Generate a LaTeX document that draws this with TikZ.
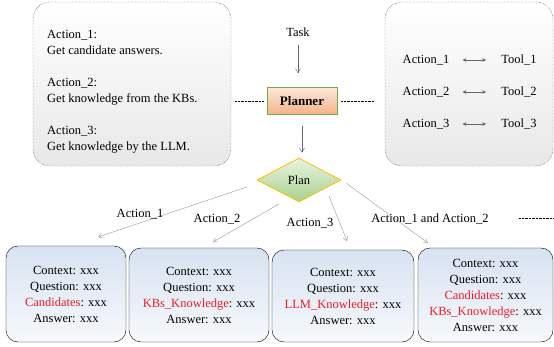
\documentclass[tikz,border=0pt]{standalone}
\usepackage{fontspec}
\setmainfont{Liberation Serif}
\usetikzlibrary{shapes.geometric,arrows.meta}
\definecolor{redtxt}{RGB}{237,28,36}
\tikzset{
  txt/.style={font=\fontsize{12.5}{16}\selectfont, inner sep=0pt},
  bigbox/.style={draw=black!85, densely dotted, rounded corners=17pt, top color=white, bottom color=black!9},
  ctxbox/.style={draw=black, rounded corners=12pt, top color={rgb,255:red,216;green,226;blue,241}, bottom color={rgb,255:red,246;green,249;blue,253}, align=center, font=\fontsize{12.5}{16}\selectfont, inner sep=0pt},
  planbox/.style={draw={rgb,255:red,112;green,173;blue,71}, thick, top color={rgb,255:red,252;green,232;blue,218}, bottom color={rgb,255:red,243;green,178;blue,135}, minimum width=70pt, minimum height=27pt, font=\fontsize{13}{16}\selectfont\bfseries},
  plandia/.style={diamond, draw={rgb,255:red,255;green,192;blue,0}, thick, top color={rgb,255:red,232;green,243;blue,224}, bottom color={rgb,255:red,168;green,208;blue,140}, minimum width=84pt, minimum height=44pt, aspect=1.9, inner sep=0pt, font=\fontsize{12.5}{16}\selectfont},
  darr/.style={draw=black!60, -{Straight Barb[length=4pt,width=5pt]}},
  garr/.style={draw=black!40, -{Straight Barb[length=4pt,width=5pt]}},
  dbl/.style={draw=black!60, {Stealth[length=4pt,width=3.5pt]}-{Stealth[length=4pt,width=3.5pt]}},
  dotline/.style={draw=black, densely dotted}
}
\begin{document}
\begin{tikzpicture}[x=1pt,y=-1pt]
\useasboundingbox (0,0) rectangle (554,347);
% top boxes
\draw[bigbox] (33,2) rectangle (231,166);
\draw[bigbox] (385,2) rectangle (553,166);
\node[txt, anchor=west, align=left] (acts) at (47,92) {Action\_1:\\Get candidate answers.\\[16pt]Action\_2:\\Get knowledge from the KBs.\\[16pt]Action\_3:\\Get knowledge by the LLM.};
% right rows
\node[txt] (a1) at (426,60) {Action\_1};
\node[txt] (t1) at (519,60) {Tool\_1};
\node[txt] (a2) at (426,92) {Action\_2};
\node[txt] (t2) at (519,92) {Tool\_2};
\node[txt] (a3) at (426,124) {Action\_3};
\node[txt] (t3) at (519,124) {Tool\_3};
\foreach \i in {1,2,3}{\draw[dbl, shorten <=13pt, shorten >=15pt] (a\i.east) -- (t\i.west);}
% task and planner
\node[txt] (task) at (298,32) {Task};
\node[planbox] (planner) at (302,101) {Planner};
\draw[darr, shorten <=8pt, shorten >=14pt] (task.south) -- (task.south |- planner.north);
\coordinate (dl1) at (235,101); \coordinate (dl2) at (264,101);
\coordinate (dr1) at (341,101); \coordinate (dr2) at (374,101);
\draw[dotline] (dl1) -- (dl2);
\draw[dotline] (dr1) -- (dr2);
\node[plandia] (plan) at (299,180) {Plan};
\draw[darr, shorten <=11pt, shorten >=5pt] (planner.south) -- (planner.south |- plan.north);
% bottom boxes
\node[ctxbox, minimum width=120pt, minimum height=96pt] (b1) at (66,294) {Context: xxx\\Question: xxx\\\textcolor{redtxt}{Candidates}: xxx\\Answer: xxx};
\node[ctxbox, minimum width=140pt, minimum height=94pt] (b2) at (199,295) {Context: xxx\\Question: xxx\\\textcolor{redtxt}{KBs\_Knowledge}: xxx\\Answer: xxx};
\node[ctxbox, minimum width=142pt, minimum height=92pt] (b3) at (343,296) {Context: xxx\\Question: xxx\\\textcolor{redtxt}{LLM\_Knowledge}: xxx\\Answer: xxx};
\node[ctxbox, minimum width=135pt, minimum height=94pt] (b4) at (485.5,295) {Context: xxx\\Question: xxx\\\textcolor{redtxt}{Candidates}: xxx\\\textcolor{redtxt}{KBs\_Knowledge}: xxx\\Answer: xxx};
% plan arrows
\coordinate (s1) at (247,187); \coordinate (e1) at (98,237);
\coordinate (s2) at (279,204); \coordinate (e2) at (213,242);
\coordinate (s3) at (329,196); \coordinate (e3) at (347,241);
\coordinate (s4) at (346,183); \coordinate (e4) at (428,243);
\draw[garr] (s1) -- (e1);
\draw[garr] (s2) -- (e2);
\draw[garr] (s3) -- (e3);
\draw[garr] (s4) -- (e4);
\node[txt] (l1) at (140,214) {Action\_1};
\node[txt] (l2) at (217,219) {Action\_2};
\node[txt] (l3) at (310,223) {Action\_3};
\node[txt] (l4) at (430,219) {Action\_1 and Action\_2};
\coordinate (d3a) at (519,218); \coordinate (d3b) at (554,218);
\draw[dotline] (d3a) -- (d3b);
\end{tikzpicture}
\end{document}
